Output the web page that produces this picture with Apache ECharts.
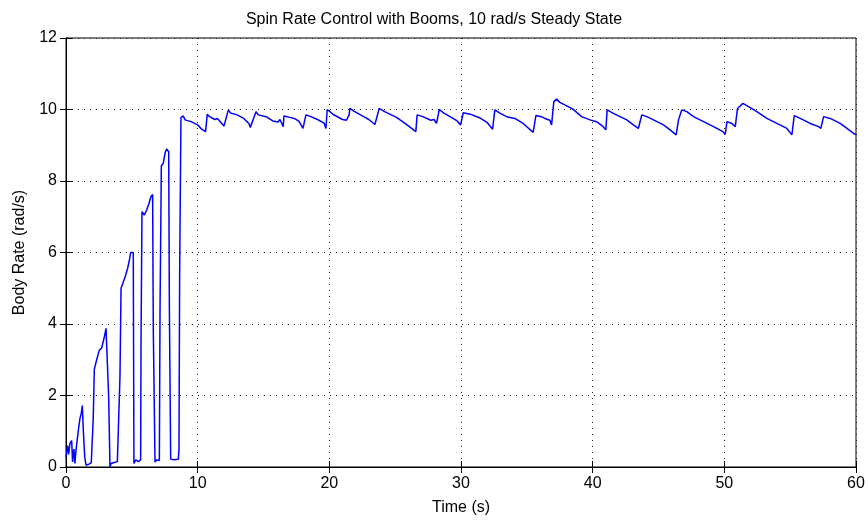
<!DOCTYPE html>
<html>
<head>
<meta charset="utf-8">
<script src="https://cdn.jsdelivr.net/npm/echarts@6/dist/echarts.min.js"></script>
<style>
html,body{margin:0;padding:0;background:#fff;}
#chart{width:868px;height:525px;}
</style>
</head>
<body>
<div id="chart"></div>
<script>
// Time (s)
var timeValues = [
  0.0, 0.12, 0.2, 0.3, 0.43, 0.5, 0.6, 0.68, 0.74, 0.81, 0.94, 1.06, 1.16, 1.24, 1.32, 1.42, 1.52, 1.62, 1.75, 1.92, 2.02,
  2.07, 2.15, 2.33, 2.53, 2.71, 2.82, 2.92, 3.04, 3.16, 3.24, 3.34, 3.42, 3.6, 3.9, 4.05,
  4.1, 4.18, 4.32, 4.5, 4.68, 4.82, 4.91, 5.11, 5.16, 5.3, 5.5, 5.67,
  5.7, 5.77, 5.95, 6.13, 6.3, 6.45, 6.58, 6.63, 6.76, 6.9, 7.09,
  7.14, 7.24, 7.39, 7.52, 7.64, 7.8, 7.85, 7.95, 8.2, 8.53, 8.58,
  8.63, 8.73, 8.91, 9.04, 9.5, 10.0, 10.3, 10.6,
  10.73, 10.9, 11.3, 11.5, 11.8, 12.0,
  12.33, 12.5, 13.0, 13.5, 13.9, 14.0,
  14.43, 14.6, 15.2, 15.7, 16.1, 16.25, 16.5,
  16.55, 17.0, 17.4, 17.7, 18.0,
  18.22, 18.6, 19.1, 19.6, 19.74,
  19.84, 20.3, 21.0, 21.3, 21.5,
  21.56, 21.9, 22.5, 23.0, 23.46,
  23.79, 24.2, 25.1, 25.8, 26.57,
  26.67, 27.1, 27.7, 27.95, 28.14,
  28.35, 28.7, 29.3, 29.7, 29.97,
  30.17, 30.7, 31.4, 32.0, 32.4,
  32.57, 32.95, 33.46, 34.09, 34.72, 35.48,
  35.69, 36.1, 36.37, 36.75, 36.88,
  37.05, 37.26, 37.5, 38.0, 38.5, 39.16, 39.8, 40.3, 40.8, 41.0,
  41.1, 41.57, 42.08, 42.59, 43.09, 43.47,
  43.73, 44.11, 44.62, 45.38, 45.88, 46.34,
  46.52, 46.77, 47.15, 47.66, 48.42, 49.18, 49.89, 50.07,
  50.2, 50.58, 50.83,
  51.0, 51.41, 51.84, 52.47, 53.23, 53.99, 54.75, 55.13,
  55.31, 55.76, 56.52, 57.16, 57.33,
  57.54, 58.04, 58.8, 59.31, 59.82, 60.0
];
// Body rate (rad/s)
var rateValues = [
  0.28, 0.6, 0.35, 0.66, 0.74, 0.14, 0.5, 0.1, 0.4, 0.45, 1.03, 1.36, 1.5, 1.72, 0.99, 0.29, 0.05, 0.0, 0.08, 0.12, 0.12,
  1.38, 2.73, 3.0, 3.27, 3.33, 3.37, 3.65, 3.88, 3.92, 1.97, 0.0, 0.1, 0.12, 0.15, 0.2,
  2.53, 5.0, 5.14, 5.33, 5.56, 5.79, 6.0, 6.0, 0.1, 0.2, 0.15, 0.2,
  3.6, 7.14, 7.05, 7.19, 7.37, 7.56, 7.62, 3.85, 0.14, 0.2, 0.18,
  4.3, 8.42, 8.5, 8.77, 8.9, 8.82, 4.5, 0.22, 0.2, 0.22, 0.48,
  5.28, 9.77, 9.82, 9.71, 9.66, 9.57, 9.45, 9.38,
  9.87, 9.8, 9.72, 9.75, 9.62, 9.54,
  9.99, 9.9, 9.85, 9.75, 9.6, 9.5,
  9.94, 9.85, 9.8, 9.68, 9.65, 9.72, 9.52,
  9.82, 9.78, 9.74, 9.67, 9.47,
  9.85, 9.8, 9.72, 9.62, 9.47,
  10.0, 9.86, 9.72, 9.7, 9.85,
  10.03, 9.95, 9.82, 9.72, 9.58,
  10.03, 9.94, 9.78, 9.6, 9.38,
  9.85, 9.8, 9.7, 9.72, 9.61,
  10.0, 9.9, 9.77, 9.68, 9.57,
  9.91, 9.87, 9.77, 9.63, 9.45,
  9.99, 9.9, 9.8, 9.75, 9.61, 9.36,
  9.83, 9.8, 9.75, 9.7, 9.57,
  10.22, 10.29, 10.2, 10.11, 10.01, 9.8, 9.71, 9.66, 9.52, 9.43,
  9.99, 9.89, 9.8, 9.71, 9.57, 9.47,
  9.85, 9.8, 9.71, 9.57, 9.43, 9.29,
  9.71, 9.99, 9.94, 9.8, 9.66, 9.52, 9.38, 9.31,
  9.66, 9.61, 9.52,
  10.03, 10.17, 10.08, 9.94, 9.75, 9.61, 9.47, 9.29,
  9.83, 9.75, 9.61, 9.52, 9.47,
  9.8, 9.75, 9.61, 9.47, 9.33, 9.3
];
var xTicks = [0, 10, 20, 30, 40, 50, 60];
var yTicks = [0, 2, 4, 6, 8, 10, 12];

var FONT = 'Liberation Sans, Arial, sans-serif';
var seriesData = timeValues.map(function (t, i) { return [t, rateValues[i]]; });

var chart = echarts.init(document.getElementById('chart'), null, {renderer: 'canvas'});
var gridLine = {show: true, lineStyle: {color: '#222', type: [1, 5], width: 1}};
chart.setOption({
  animation: false,
  backgroundColor: '#fff',
  title: {
    text: 'Spin Rate Control with Booms, 10 rad/s Steady State',
    left: 'center', top: 7,
    textStyle: {fontFamily: FONT, fontSize: 16, fontWeight: 'normal', color: '#000'}
  },
  grid: {left: 66, right: 12, top: 38, bottom: 58, show: true, borderColor: '#000', borderWidth: 1},
  xAxis: [{
    type: 'value', min: xTicks[0], max: xTicks[xTicks.length - 1], interval: 10,
    name: 'Time (s)', nameLocation: 'middle', nameGap: 33,
    nameTextStyle: {fontFamily: FONT, fontSize: 16, color: '#000'},
    axisLine: {show: true, lineStyle: {color: '#000'}},
    axisTick: {show: true, inside: true, length: 6, lineStyle: {color: '#000'}},
    axisLabel: {fontFamily: FONT, fontSize: 16, color: '#000', margin: 9},
    splitLine: gridLine
  }, {
    type: 'value', position: 'top', min: 0, max: 60, interval: 10,
    axisLine: {show: true, lineStyle: {color: '#000'}},
    axisTick: {show: true, inside: true, length: 6, lineStyle: {color: '#000'}},
    axisLabel: {show: false}, splitLine: {show: false}
  }],
  yAxis: [{
    type: 'value', min: yTicks[0], max: yTicks[yTicks.length - 1], interval: 2,
    name: 'Body Rate (rad/s)', nameLocation: 'middle', nameGap: 38, nameRotate: 90,
    nameTextStyle: {fontFamily: FONT, fontSize: 16, color: '#000'},
    axisLine: {show: true, lineStyle: {color: '#000'}},
    axisTick: {show: true, inside: true, length: 6, lineStyle: {color: '#000'}},
    axisLabel: {fontFamily: FONT, fontSize: 16, color: '#000', margin: 9},
    splitLine: gridLine
  }, {
    type: 'value', position: 'right', min: 0, max: 12, interval: 2,
    axisLine: {show: true, lineStyle: {color: '#000'}},
    axisTick: {show: true, inside: true, length: 6, lineStyle: {color: '#000'}},
    axisLabel: {show: false}, splitLine: {show: false}
  }],
  series: [{
    type: 'line', xAxisIndex: 0, yAxisIndex: 0,
    data: seriesData, showSymbol: false,
    lineStyle: {color: '#0000ff', width: 1.5},
    itemStyle: {color: '#0000ff'}
  }]
});
</script>
</body>
</html>
